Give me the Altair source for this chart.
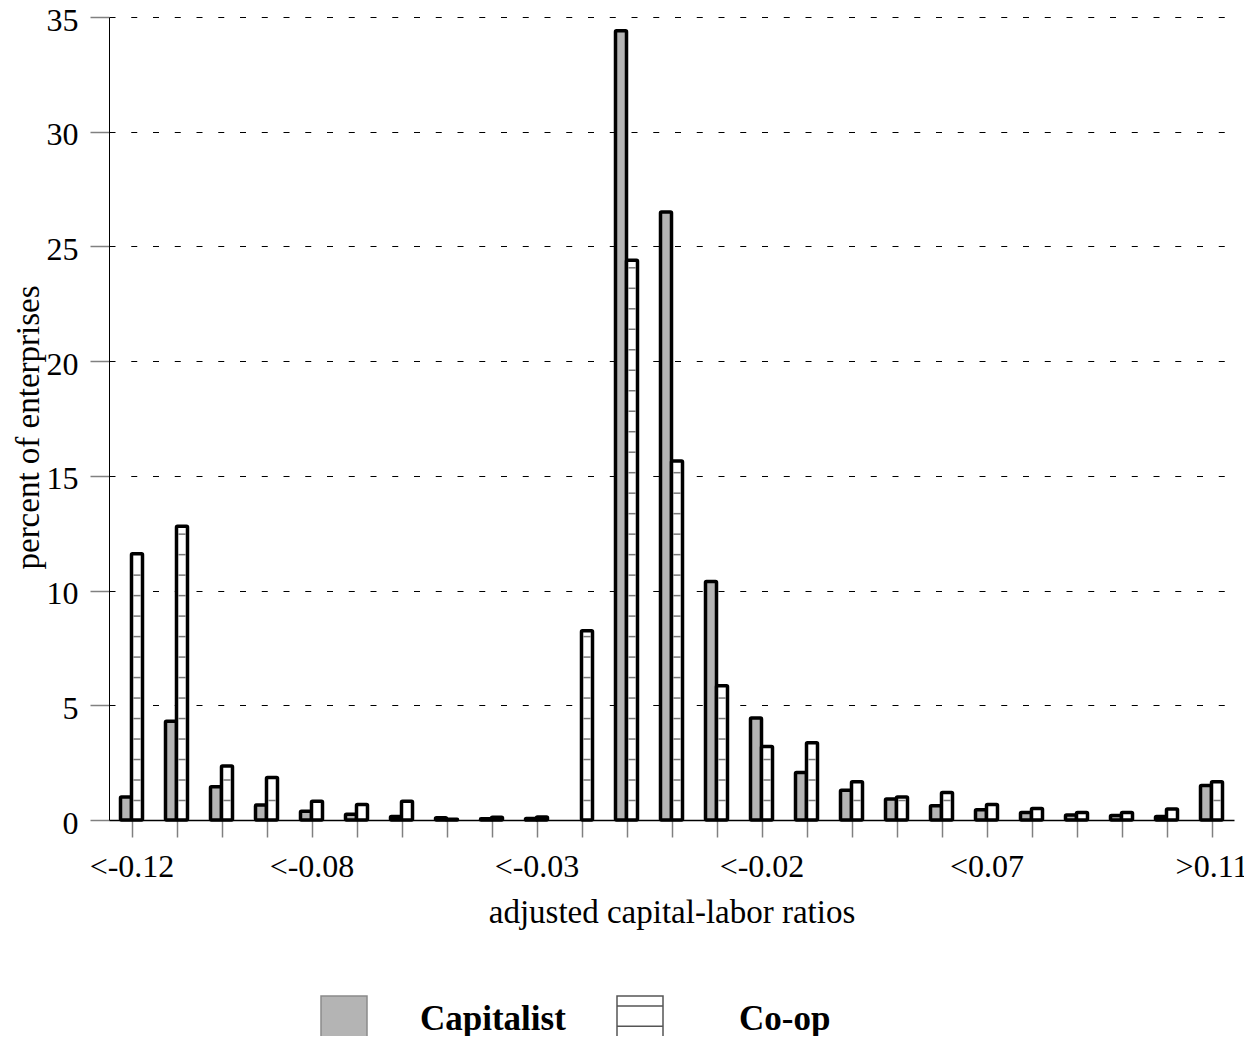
import json
import altair as alt
import pandas as pd

# ---------------- data ----------------
categories = list(range(25))
tick_labels = ["<-0.12", "", "", "", "<-0.08", "", "", "", "", "<-0.03",
               "", "", "", "", "<-0.02", "", "", "", "", "<0.07",
               "", "", "", "", ">0.11"]
capitalist = [1.0, 4.3, 1.45, 0.65, 0.38, 0.25, 0.15, 0.1, 0.05, 0.07,
              0.0, 34.4, 26.5, 10.4, 4.45, 2.07, 1.3, 0.92, 0.62, 0.45,
              0.33, 0.22, 0.2, 0.15, 1.5]
coop = [11.6, 12.8, 2.35, 1.85, 0.82, 0.68, 0.82, 0.03, 0.12, 0.13,
        8.25, 24.4, 15.65, 5.85, 3.2, 3.37, 1.67, 1.0, 1.2, 0.68,
        0.5, 0.33, 0.33, 0.48, 1.67]
series_names = ["Capitalist", "Co-op"]
y_ticks = [0, 5, 10, 15, 20, 25, 30, 35]

# ---------------- style constants ----------------
FONT = "Liberation Serif"
BAR_W = 11 / 45          # bar width in category units
HATCH_START, HATCH_STEP = 0.85, 0.893   # horizontal hatch of the Co-op bars
GRAY = "#b4b4b4"

df = pd.DataFrame({"idx": categories, "cap": capitalist, "coop": coop})

# hatch lines derived from the Co-op values
hatch_rows = []
for i, v in zip(categories, coop):
    k = 0
    while HATCH_START + k * HATCH_STEP < v - 0.12:
        hatch_rows.append({"idx": i, "level": HATCH_START + k * HATCH_STEP})
        k += 1
hatch_df = pd.DataFrame(hatch_rows)

label_expr = "[" + ",".join(json.dumps(s) for s in tick_labels) + "][datum.value]"

x_scale = alt.Scale(domain=[-0.5, 24.5], nice=False, zero=False)
y_scale = alt.Scale(domain=[0, 35], nice=False)

x_axis = alt.Axis(values=categories, labelExpr=label_expr, labelOverlap=False,
                  tickSize=17, tickColor="#808080", tickWidth=1.5,
                  labelFontSize=32, labelPadding=14, labelColor="black",
                  domainColor="black", domainWidth=1.5, grid=False,
                  title="adjusted capital-labor ratios", titleFontSize=33,
                  titleFontWeight="normal", titlePadding=14, titleColor="black")
y_axis = alt.Axis(values=y_ticks, tickSize=19, tickColor="#808080", tickWidth=1.5,
                  labelFontSize=32, labelPadding=12, labelColor="black",
                  labelOffset=3,
                  domainColor="black", domainWidth=1, grid=True,
                  gridColor="black", gridDash=[6, 15.75], gridWidth=1,
                  title="percent of enterprises", titleFontSize=33,
                  titleFontWeight="normal", titlePadding=1, titleColor="black",
                  titleY=410)

base = alt.Chart(df)

cap_bars = base.transform_filter("datum.cap > 0").transform_calculate(
    x0="datum.idx - %f" % BAR_W
).mark_bar(fill=GRAY, stroke="black", strokeWidth=3.5, strokeJoin="round",
           cornerRadius=1).encode(
    x=alt.X("x0:Q", scale=x_scale, axis=x_axis),
    x2="idx:Q",
    y=alt.Y("cap:Q", scale=y_scale, axis=y_axis),
    y2=alt.datum(0),
)

coop_bars = base.transform_filter("datum.coop > 0").transform_calculate(
    x1="datum.idx + %f" % BAR_W
).mark_bar(fill="white", stroke="black", strokeWidth=3.5, strokeJoin="round",
           cornerRadius=1).encode(
    x=alt.X("idx:Q", scale=x_scale, axis=x_axis),
    x2="x1:Q",
    y=alt.Y("coop:Q", scale=y_scale, axis=y_axis),
    y2=alt.datum(0),
)

hatch = alt.Chart(hatch_df).transform_calculate(
    xa="datum.idx + 0.04",
    xb="datum.idx + %f - 0.04" % BAR_W,
).mark_rule(color="#7a7a7a", strokeWidth=1.5).encode(
    x=alt.X("xa:Q", scale=x_scale, axis=x_axis),
    x2="xb:Q",
    y=alt.Y("level:Q", scale=y_scale, axis=y_axis),
)

# ---------------- legend (two independent one-entry legends) ----------------
square = "M-1,-1H1V1H-1Z"
square_lines = "M-1,-1H1V1H-1Z M-1,-0.56H1 M-1,0.31H1"


def legend_layer(name, fill, stroke, shape, legend_x, label_offset):
    leg = alt.Legend(title=None, orient="none", legendX=legend_x, legendY=978,
                     labelOffset=label_offset)
    d = pd.DataFrame({"series": [name]})
    return alt.Chart(d).transform_filter("false").mark_point(
        filled=True, opacity=1
    ).encode(
        fill=alt.Fill("series:N", scale=alt.Scale(domain=[name], range=[fill]), legend=leg),
        stroke=alt.Stroke("series:N", scale=alt.Scale(domain=[name], range=[stroke]), legend=leg),
        shape=alt.Shape("series:N", scale=alt.Scale(domain=[name], range=[shape]), legend=leg),
    )


leg_cap = legend_layer(series_names[0], GRAY, "#8a8a8a", square, 211, 52)
leg_coop = legend_layer(series_names[1], "white", "#555555", square_lines, 507, 75)

chart = alt.layer(cap_bars, coop_bars, hatch, leg_cap, leg_coop).resolve_scale(
    fill="independent", stroke="independent", shape="independent"
).resolve_legend(
    fill="independent", stroke="independent", shape="independent"
).properties(
    width=1125, height=803,
    padding={"left": 101, "top": 9, "right": 10, "bottom": 216},
    autosize=alt.AutoSizeParams(type="none"),
).configure(font=FONT).configure_view(stroke=None).configure_axis(
    labelFont=FONT, titleFont=FONT
).configure_legend(
    symbolSize=2116, symbolStrokeWidth=1.5, labelFont=FONT, labelFontSize=35,
    labelFontWeight="bold", labelColor="black",
    padding=0, symbolOpacity=1,
)

chart.save("out.html", embed_options={"renderer": "svg", "actions": False})
